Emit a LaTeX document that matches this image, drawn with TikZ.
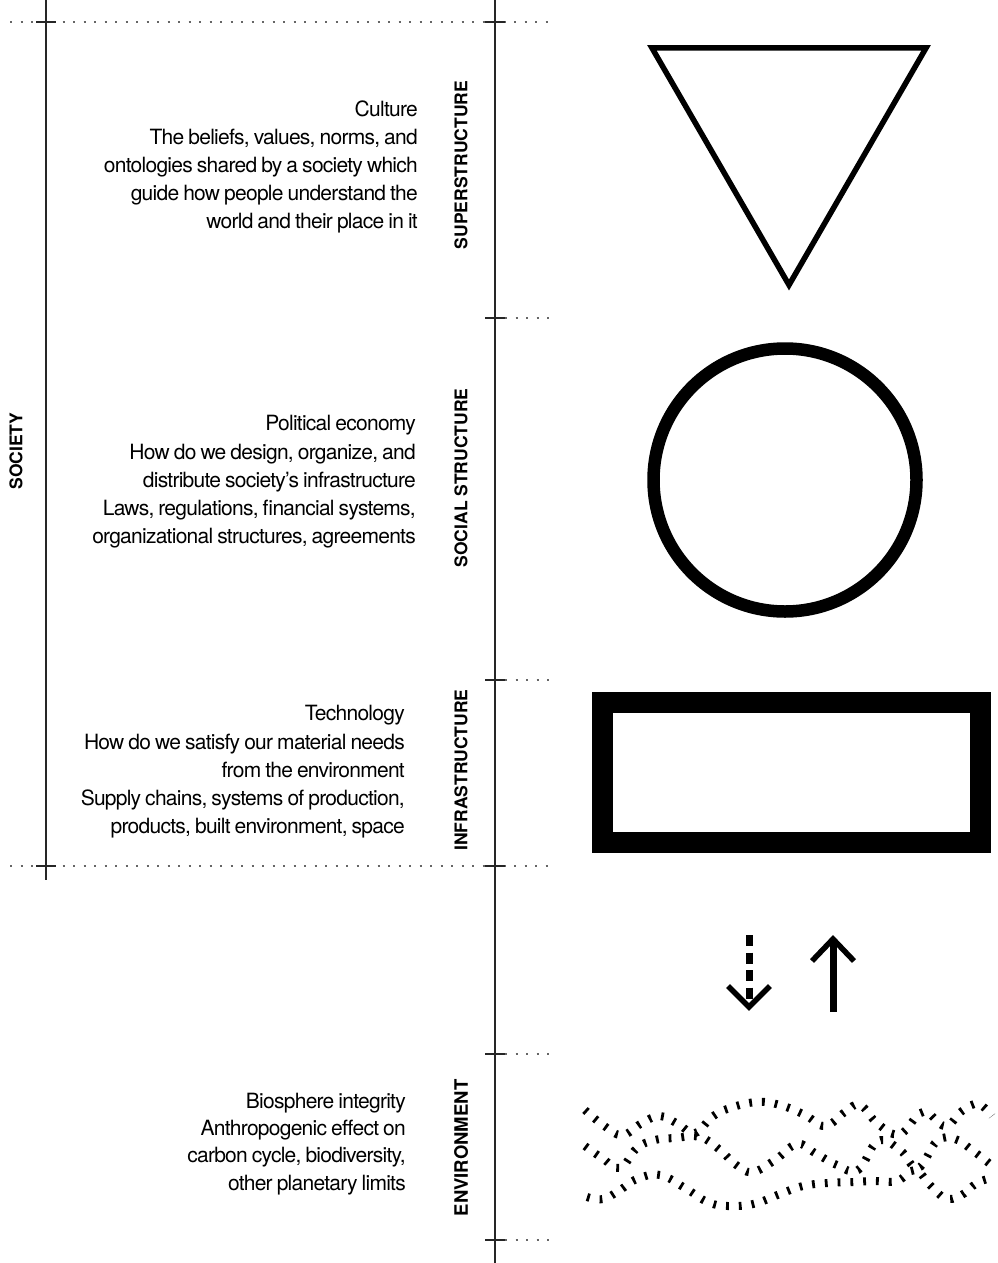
\documentclass[tikz,border=0pt]{standalone}
\usepackage{fontspec}
\setmainfont{TeX Gyre Heros}
\newfontfamily\blurbfont{TeX Gyre Heros}[LetterSpace=-3.5,WordSpace=0.8]
\begin{document}
\begin{tikzpicture}[x=1pt,y=-1pt,
  axis/.style={black!85,line width=1.2pt},
  tickmark/.style={black!85,line width=1.6pt},
  guide/.style={black!60,line width=1.6pt,dash pattern=on 2pt off 8.5pt},
  blurb/.style={anchor=east,align=right,inner sep=0pt,font=\blurbfont\fontsize{21}{28.2}\selectfont},
  layer/.style={rotate=90,inner sep=0pt,font=\fontsize{17.5}{19}\selectfont\bfseries},
  shapeline/.style={black,line join=miter},
  ticked/.style={black,line width=8pt,dash pattern=on 2.8pt off 10pt}
]
\useasboundingbox (0,0) rectangle (997,1263);

% horizontal guides
\coordinate (gL0) at (10,22);    \coordinate (gR0) at (555,22);
\coordinate (gL4) at (10,866);   \coordinate (gR4) at (555,866);
\draw[guide] (gL0) -- (gR0);
\draw[guide] (gL4) -- (gR4);
\foreach \y [count=\i] in {318,680,1054,1240}{
  \coordinate (s\i) at (505,\y);
  \coordinate (e\i) at (555,\y);
  \draw[guide] (s\i) -- (e\i);
}

% vertical axes
\coordinate (societyTop) at (46,0);   \coordinate (societyBot) at (46,880);
\coordinate (layersTop) at (495,0);   \coordinate (layersBot) at (495,1263);
\draw[axis] (societyTop) -- (societyBot);
\draw[axis] (layersTop) -- (layersBot);

% tick marks on the axes
\foreach \y in {22,866}{
  \draw[tickmark] (36,\y) -- (56,\y);
}
\foreach \y in {22,318,680,866,1054,1240}{
  \draw[tickmark] (485,\y) -- (505,\y);
}

% axis labels
\node[layer] (society) at (16,451) {SOCIETY};
\node[layer] (superstructure) at (461,165) {SUPERSTRUCTURE};
\node[layer] (social) at (461,478) {SOCIAL STRUCTURE};
\node[layer] (infra) at (461,770) {INFRASTRUCTURE};
\node[layer,font=\fontsize{18.5}{19}\selectfont\bfseries] (environment) at (461,1148) {ENVIRONMENT};

% descriptions
\node[blurb] (culture) at (418,167) {Culture\\
The beliefs, values, norms, and\\
ontologies shared by a society which\\
guide how people understand the\\
world and their place in it};

\node[blurb] (economy) at (416,482) {Political economy\\
How do we design, organize, and\\
distribute society’s infrastructure\\
Laws, regulations, financial systems,\\
organizational structures, agreements};

\node[blurb] (technology) at (405,772) {Technology\\
How do we satisfy our material needs\\
from the environment\\
Supply chains, systems of production,\\
products, built environment, space};

\node[blurb,font=\blurbfont\fontsize{21}{27.2}\selectfont] (biosphere) at (406,1144) {Biosphere integrity\\
Anthropogenic effect on\\
carbon cycle, biodiversity,\\
other planetary limits};

% symbols
\draw[shapeline,line width=5.5pt] (652,48) -- (926,48) -- (789,285) -- cycle;
\draw[shapeline,line width=12.5pt] (785,480) circle (131.5pt);
\draw[shapeline,line width=21pt] (602,702.5) rectangle (980,842.5);

% exchange arrows
\coordinate (downTop) at (749,935);  \coordinate (downEnd) at (749,1003);
\coordinate (downTip) at (749,1007);
\draw[black,line width=7pt,dash pattern=on 11pt off 6.5pt] (downTop) -- (downEnd);
\draw[black,line width=5.5pt,line join=miter] (728,986) -- (downTip) -- (770,986);

\coordinate (upBot) at (833,1012);  \coordinate (upTip) at (833,939);
\draw[black,line width=7pt] (upBot) -- (833,943);
\draw[black,line width=5.5pt,line join=miter] (812,961) -- (upTip) -- (854,961);

% biosphere scribble
\draw[ticked] plot[smooth,tension=0.7] coordinates {
  (585,1110) (603,1125) (622,1135) (642,1123) (660,1116) (678,1124) (695,1133)
  (712,1117) (730,1108) (757,1102) (780,1105) (805,1115) (825,1126) (845,1112)
  (860,1105) (878,1124) (900,1134) (923,1112) (945,1126) (962,1111) (978,1104) (992,1116)};
\draw[ticked] plot[smooth,tension=0.7] coordinates {
  (585,1146) (602,1158) (620,1168) (637,1148) (655,1140) (675,1138) (700,1137)
  (720,1150) (735,1164) (752,1172) (775,1160) (797,1144) (815,1153) (837,1165)
  (858,1170) (878,1141) (900,1150) (918,1168) (937,1141) (955,1139) (972,1150) (990,1164)};
\draw[ticked] plot[smooth,tension=0.7] coordinates {
  (587,1197) (603,1199) (620,1190) (637,1179) (660,1175) (685,1188) (710,1203)
  (735,1206) (757,1203) (780,1194) (803,1186) (828,1183) (853,1182) (875,1181)
  (897,1181) (915,1170) (930,1185) (945,1198) (960,1196) (977,1183) (992,1178)};
\end{tikzpicture}
\end{document}
